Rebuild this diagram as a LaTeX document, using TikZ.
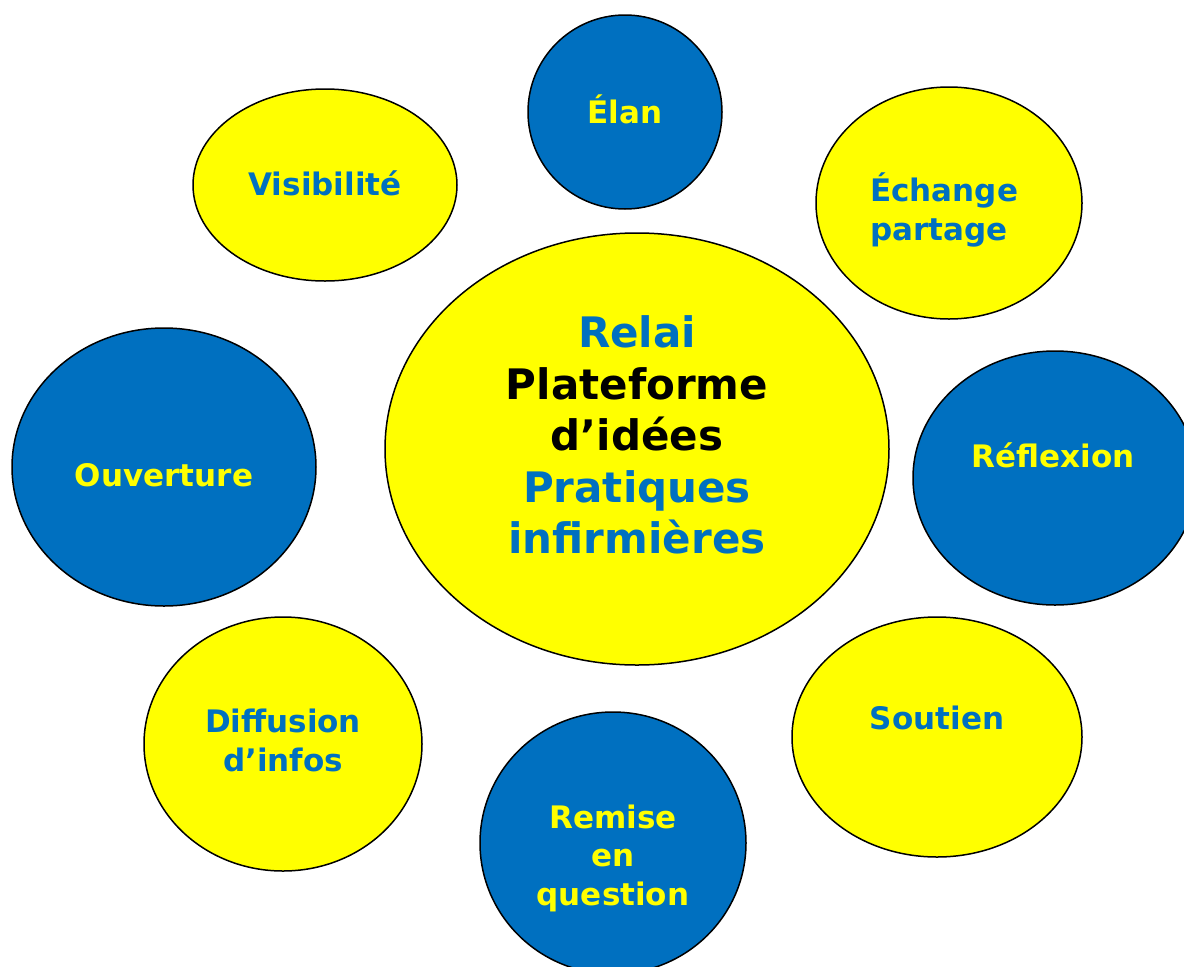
\documentclass[tikz,border=0pt]{standalone}
\usepackage{fontspec}
\setmainfont{DejaVu Sans}
\usetikzlibrary{shapes.geometric}
\definecolor{cblue}{HTML}{0070C0}
\definecolor{cyel}{HTML}{FFFF00}
\tikzset{
  bub/.style={draw=black, line width=1.5pt, ellipse, inner sep=0pt},
  ybub/.style={bub, fill=cyel},
  bbub/.style={bub, fill=cblue},
  lbl/.style={font=\fontsize{31}{39}\selectfont\bfseries, align=center, inner sep=0pt},
  ylbl/.style={lbl, text=cyel},
  blbl/.style={lbl, text=cblue},
}
\begin{document}
\begin{tikzpicture}[x=1pt,y=-1pt]
\useasboundingbox (0,0) rectangle (1184,967);
\clip (0,0) rectangle (1184,967);
% bubbles
\node[bbub, minimum width=194pt, minimum height=194pt] (elan) at (625,112) {};
\node[ybub, minimum width=264pt, minimum height=192pt] (vis) at (325,185) {};
\node[ybub, minimum width=266pt, minimum height=232pt] (ech) at (949,203) {};
\node[ybub, minimum width=504pt, minimum height=432pt] (ctr) at (637,449) {};
\node[bbub, minimum width=304pt, minimum height=278pt] (ouv) at (164,467) {};
\node[bbub, minimum width=284pt, minimum height=254pt] (ref) at (1055,478) {};
\node[ybub, minimum width=278pt, minimum height=254pt] (dif) at (283,744) {};
\node[ybub, minimum width=290pt, minimum height=240pt] (sou) at (937,737) {};
\node[bbub, minimum width=266pt, minimum height=262pt] (rem) at (613,843) {};
% labels
\node[ylbl] (telan) at (625,109) {Élan};
\node[blbl] (tvis) at (325,183) {Visibilité};
\node[blbl, align=left, anchor=west] (tech) at (870,210) {Échange\\partage};
\node[ylbl] (touv) at (164,475) {Ouverture};
\node[ylbl] (tref) at (1053,455) {Réflexion};
\node[blbl] (tdif) at (283,740) {Diffusion\\d’infos};
\node[blbl] (tsou) at (937,718) {Soutien};
\node[ylbl, font=\fontsize{31}{38.5}\selectfont\bfseries] (trem) at (613,858) {Remise\\en\\question};
\node[lbl, font=\fontsize{42}{51.5}\selectfont\bfseries] (tctr) at (637,435)
  {\textcolor{cblue}{Relai}\\Plateforme\\d’idées\\\textcolor{cblue}{Pratiques}\\\textcolor{cblue}{infirmières}};
\end{tikzpicture}
\end{document}
